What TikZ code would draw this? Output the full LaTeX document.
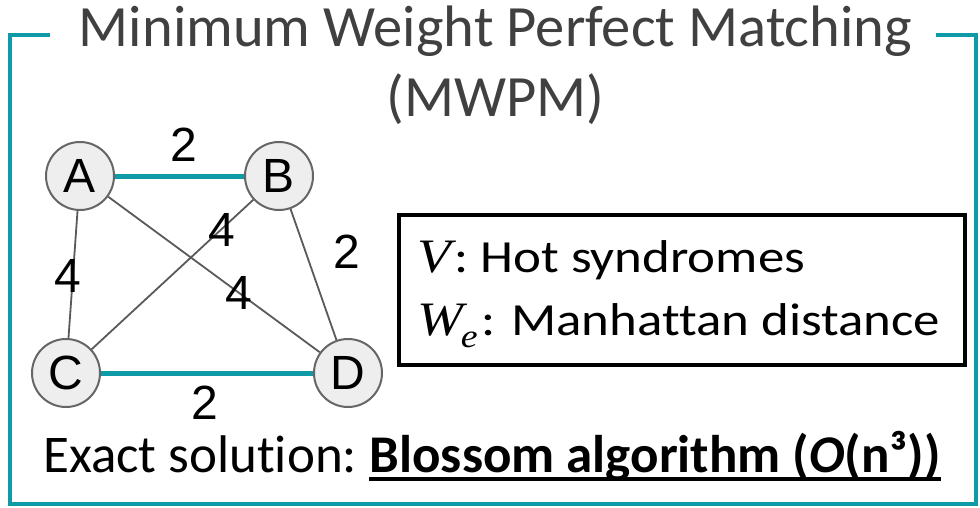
\documentclass[tikz,border=0pt]{standalone}
\usepackage{fontspec}
\setmainfont{Carlito}[Ligatures=NoCommon]
\newfontfamily\labelfont{Liberation Sans}
\newfontfamily\symserif{Liberation Serif}

\definecolor{framecol}{HTML}{0E9AA7}
\definecolor{titlegray}{HTML}{404040}
\definecolor{nodefill}{HTML}{EEEEEE}
\definecolor{nodeedge}{HTML}{666666}
\definecolor{edgegray}{HTML}{5A5A5A}

\begin{document}
\begin{tikzpicture}[x=1pt,y=-1pt,
  vtx/.style={circle,draw=nodeedge,fill=nodefill,line width=2pt,
    minimum size=68pt,inner sep=0pt,
    font=\labelfont\fontsize{48}{48}\selectfont},
  wlabel/.style={inner sep=0pt,font=\labelfont\fontsize{48}{48}\selectfont},
  matched/.style={draw=framecol,line width=5pt},
  plain/.style={draw=edgegray,line width=1.8pt},
  titletext/.style={inner sep=0pt,text=titlegray,
    font=\fontsize{58.5}{58.5}\selectfont},
  legendtext/.style={inner sep=0pt,anchor=base west,
    font=\fontsize{46}{46}\selectfont},
  bottomtext/.style={inner sep=0pt,anchor=base west,
    font=\fontsize{53}{53}\selectfont},
]
\useasboundingbox (0,0) rectangle (980,508);
\fill[white] (0,0) rectangle (980,508);

% open frame with a gap for the heading
\draw[framecol,line width=4pt,line join=miter]
  (50,35.5) -- (9.5,35.5) -- (9.5,504) -- (975.5,504) -- (975.5,35.5) -- (936,35.5);

% heading
\node[titletext,anchor=base] (t1) at (495.5,47) {Minimum Weight Perfect Matching};
\node[titletext,anchor=base] (t2) at (495.5,117) {(MWPM)};

% graph vertices
\node[vtx] (A) at (80,176) {A};
\node[vtx] (B) at (279,176) {B};
\node[vtx] (C) at (66,373) {C};
\node[vtx] (D) at (348,373) {D};

% edges
\draw[plain] (A) -- (C);
\draw[plain] (A) -- (D);
\draw[plain] (B) -- (C);
\draw[plain] (B) -- (D);
\draw[matched] (A) -- (B);
\draw[matched] (C) -- (D);

% edge weights
\node[wlabel] (wab) at (184,145) {2};
\node[wlabel] (wac) at (68,276) {4};
\node[wlabel] (wbc) at (222,230) {4};
\node[wlabel] (wbd) at (347,252) {2};
\node[wlabel] (wad) at (239,293) {4};
\node[wlabel] (wcd) at (205,403) {2};

% legend box
\node[draw,line width=4pt,minimum width=566pt,minimum height=150pt,
  inner sep=0pt,anchor=north west] (legend) at (397,213) {};
\node[legendtext] (lv) at (417,272)
  {\scalebox{1.15}[1]{{\symserif\itshape\fontsize{48}{48}\selectfont V}\kern3pt: Hot syndromes}};
\node[legendtext] (lw) at (417,335)
  {\scalebox{1.15}[1]{{\symserif\itshape\fontsize{48}{48}\selectfont W\kern-2pt\raisebox{-0.26em}{\fontsize{33}{33}\selectfont e}}\kern3pt: Manhattan distance}};

% bottom line
\node[bottomtext] (exact) at (43,472) {Exact solution:\ \null};
\node[bottomtext] (algo) at (exact.base east)
  {\bfseries Blossom algorithm (\textit{O}(n³))};
\draw[line width=4pt] ([yshift=-7pt]algo.base west) -- ([yshift=-7pt]algo.base east);
\end{tikzpicture}
\end{document}
